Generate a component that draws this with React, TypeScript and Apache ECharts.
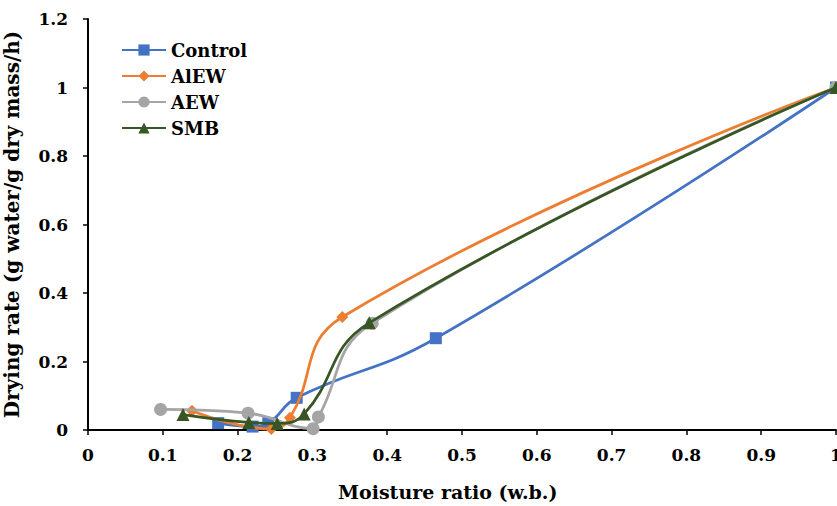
import React, { useEffect, useRef } from "react";
import * as echarts from "echarts";

const controlX = [1, 0.465, 0.279, 0.241, 0.22, 0.174];
const controlY = [1, 0.268, 0.094, 0.02, 0.01, 0.02];
const alewX = [1, 0.34, 0.27, 0.245, 0.139];
const alewY = [1, 0.33, 0.036, 0.003, 0.056];
const aewX = [1, 0.38, 0.308, 0.301, 0.214, 0.097];
const aewY = [1, 0.312, 0.038, 0.004, 0.049, 0.06];
const smbX = [1, 0.376, 0.289, 0.253, 0.215, 0.127];
const smbY = [1, 0.313, 0.047, 0.019, 0.022, 0.045];

const seriesNames = ["Control", "AlEW", "AEW", "SMB"];
const colors = ["#4472C4", "#ED7D31", "#A5A5A5", "#375623"];
const symbols = ["rect", "diamond", "circle", "triangle"];
const symbolSizes = [12, 12, 13, 13];

const FONT = "DejaVu Serif";

export default function App() {
  const ref = useRef<HTMLDivElement>(null);
  useEffect(() => {
    if (!ref.current) return;
    const chart = echarts.init(ref.current, null, { renderer: "svg" });
    const xs = [controlX, alewX, aewX, smbX];
    const ys = [controlY, alewY, aewY, smbY];
    const series = seriesNames.map((name, i) => ({
      name,
      type: "line",
      smooth: 0.45,
      data: xs[i].map((x, j) => [x, ys[i][j]]),
      symbol: symbols[i],
      symbolSize: symbolSizes[i],
      showSymbol: true,
      lineStyle: { color: colors[i], width: 2.75 },
      itemStyle: { color: colors[i] },
      z: 2 + i,
    }));
    chart.setOption({
      animation: false,
      textStyle: { fontFamily: FONT },
      grid: {
        left: 88,
        right: 1,
        top: 19,
        bottom: 76,
        containLabel: false,
        outerBoundsMode: "none",
      },
      legend: {
        left: 116,
        top: 36,
        orient: "vertical",
        itemGap: 8,
        itemWidth: 44,
        itemHeight: 14,
        textStyle: { fontFamily: FONT, fontWeight: "bold", fontSize: 18, color: "#000" },
        data: seriesNames,
      },
      xAxis: {
        type: "value",
        min: 0,
        max: 1,
        interval: 0.1,
        splitLine: { show: false },
        axisLine: { show: true, lineStyle: { color: "#000", width: 2 } },
        axisTick: { show: true, length: 5, lineStyle: { color: "#000", width: 1.5 } },
        axisLabel: {
          margin: 16,
          color: "#000",
          fontFamily: FONT,
          fontWeight: "bold",
          fontSize: 17,
          formatter: (v: number) => String(Math.round(v * 10) / 10),
        },
      },
      yAxis: {
        type: "value",
        min: 0,
        max: 1.2,
        interval: 0.2,
        splitLine: { show: false },
        axisLine: { show: true, lineStyle: { color: "#000", width: 2 } },
        axisTick: { show: true, length: 5, lineStyle: { color: "#000", width: 1.5 } },
        axisLabel: {
          margin: 20,
          color: "#000",
          fontFamily: FONT,
          fontWeight: "bold",
          fontSize: 17,
          formatter: (v: number) => String(Math.round(v * 10) / 10),
        },
        name: "Drying rate (g water/g dry mass/h)",
        nameLocation: "middle",
        nameGap: 66,
        nameTextStyle: { fontFamily: FONT, fontWeight: "bold", fontSize: 20, color: "#000" },
      },
      graphic: [
        {
          type: "text",
          left: 338,
          top: 482,
          style: {
            text: "Moisture ratio (w.b.)",
            font: `bold 19px "${FONT}"`,
            fill: "#000",
          },
        },
      ],
      series,
    });
    return () => chart.dispose();
  }, []);
  return <div ref={ref} style={{ width: 837, height: 506, position: "absolute", left: 0, top: 0 }} />;
}
